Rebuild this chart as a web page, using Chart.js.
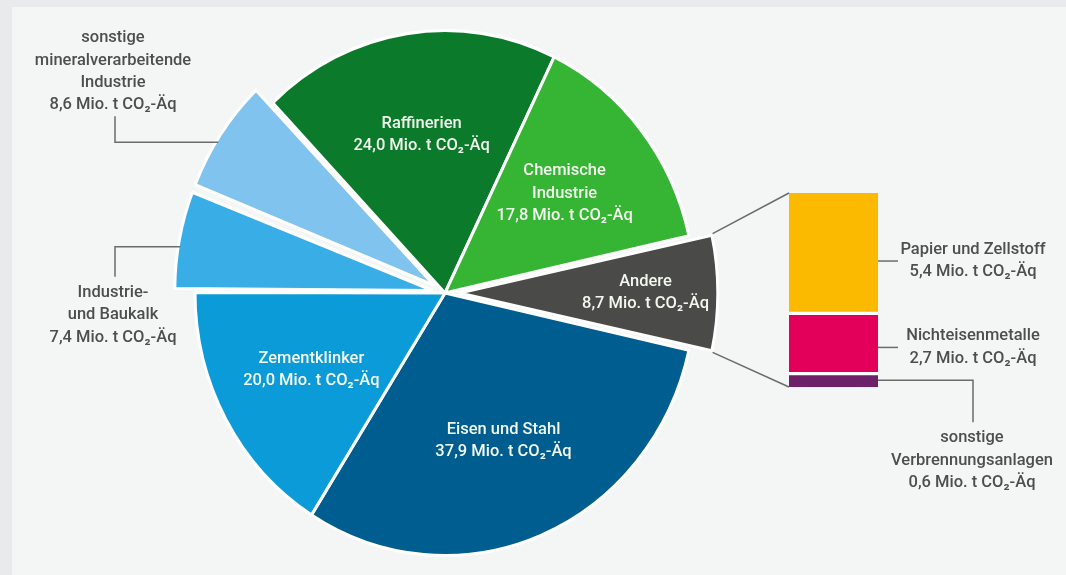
<!DOCTYPE html>
<html lang="de">
<head>
<meta charset="utf-8">
<title>Treibhausgasemissionen der Industrie</title>
<script src="https://cdn.jsdelivr.net/npm/chart.js@4.4.1/dist/chart.umd.min.js"></script>
<style>
  html, body { margin: 0; padding: 0; background: #e9eaec; }
  #wrap { position: relative; width: 1066px; height: 575px; overflow: hidden; }
  #panel { position: absolute; left: 12px; top: 7px; right: 0; bottom: 0; background: #f4f6f6; }
  canvas { position: absolute; left: 0; top: 0; }
</style>
</head>
<body>
<div id="wrap">
  <div id="panel"></div>
  <canvas id="pie" width="1066" height="575"></canvas>
  <canvas id="bar" width="1066" height="575"></canvas>
</div>
<script>
// Sektoren im Kreis (im Uhrzeigersinn, beginnend mit "Andere")
const sektoren = [
  ['Andere'],
  ['Eisen und Stahl'],
  ['Zementklinker'],
  ['Industrie-', 'und Baukalk'],
  ['sonstige', 'mineralverarbeitende', 'Industrie'],
  ['Raffinerien'],
  ['Chemische', 'Industrie']
];
const emissionen = [8.7, 37.9, 20.0, 7.4, 8.6, 24.0, 17.8];

// Aufteilung von "Andere" (von unten nach oben gestapelt)
const andereTeile = [
  ['sonstige', 'Verbrennungsanlagen'],
  ['Nichteisenmetalle'],
  ['Papier und Zellstoff']
];
const andereWerte = [0.6, 2.7, 5.4];

const einheit = 'Mio. t CO₂-Äq';

// Aussehen
const sliceColors = ['#4a4a48', '#005d8f', '#0b9bd9', '#39ade6', '#80c3ee', '#0b7a2b', '#36b535'];
const explode = [58, 0, 0, 50, 52, 0, 0];
const barColors = ['#6d2168', '#e3005b', '#fbb900'];
const FONT = '500 16.5px Roboto, "Open Sans", sans-serif';
const LH = 22.3;
const KY = 1.05;         // Kreis ist im Original leicht gestreckt
const LEFT_LABEL_X = 113;
const LINE_COLOR = '#6b6b6b';
const TEXT_DARK = '#4e4e4e';
const TEXT_LIGHT = '#f3f8ee';

const total = emissionen.reduce((a, b) => a + b, 0);
const andereDeg = emissionen[0] / total * 360;

function wert(v) {
  return v.toFixed(1).replace('.', ',') + ' ' + einheit;
}

function drawLines(ctx, lines, x, yMid, color) {
  ctx.fillStyle = color;
  lines.forEach((t, i) => ctx.fillText(t, x, yMid + (i - (lines.length - 1) / 2) * LH));
}

// Geometrie eines (evtl. herausgezogenen) Kreissegments wie Chart.js es zeichnet
function arcGeo(arc) {
  const off = (arc.options.offset || 0) / 4;
  const mid = (arc.startAngle + arc.endAngle) / 2;
  const circ = arc.endAngle - arc.startAngle;
  const r = arc.outerRadius + off * (1 - Math.sin(Math.min(Math.PI, circ)));
  return { cx: arc.x + Math.cos(mid) * off, cy: arc.y + Math.sin(mid) * off, r, mid, start: arc.startAngle, end: arc.endAngle };
}

function project(arc, g, ang, rad) {
  const py = g.cy + Math.sin(ang) * rad;
  return { x: g.cx + Math.cos(ang) * rad, y: arc.y + (py - arc.y) * KY };
}

const squash = {
  id: 'squash',
  beforeDatasetsDraw(chart) {
    const a = chart.getDatasetMeta(0).data[0];
    const ctx = chart.ctx;
    ctx.save();
    ctx.translate(a.x, a.y);
    ctx.scale(1, KY);
    ctx.translate(-a.x, -a.y);
  },
  afterDatasetsDraw(chart) {
    chart.ctx.restore();
  }
};

const pieLabels = {
  id: 'pieLabels',
  afterDraw(chart) {
    const ctx = chart.ctx;
    const arcs = chart.getDatasetMeta(0).data;
    ctx.save();
    ctx.font = FONT;
    ctx.textAlign = 'center';
    ctx.textBaseline = 'middle';
    arcs.forEach((arc, i) => {
      const g = arcGeo(arc);
      const lines = sektoren[i].concat(wert(emissionen[i]));
      const small = emissionen[i] / total < 0.1;
      if (small && Math.cos(g.mid) < 0) {
        // Beschriftung außen links mit Winkellinie
        const ang = g.start + 0.43 * (g.end - g.start);
        const a = project(arc, g, ang, g.r - 2);
        const ex = LEFT_LABEL_X + 2;
        let endY, textMid;
        if (Math.sin(g.mid) < -0.3) {
          endY = a.y - 26;
          textMid = a.y - 37 - (lines.length - 1) / 2 * LH;
        } else {
          endY = a.y + 30;
          textMid = a.y + 46 + (lines.length - 1) / 2 * LH;
        }
        ctx.strokeStyle = LINE_COLOR;
        ctx.lineWidth = 1.5;
        ctx.beginPath();
        ctx.moveTo(a.x, a.y);
        ctx.lineTo(ex, a.y);
        ctx.lineTo(ex, endY);
        ctx.stroke();
        drawLines(ctx, lines, LEFT_LABEL_X, textMid, TEXT_DARK);
      } else {
        const p = project(arc, g, g.mid, g.r * (small ? 0.72 : 0.61));
        drawLines(ctx, lines, p.x, p.y, TEXT_LIGHT);
      }
    });
    ctx.restore();
  }
};

const pieChart = new Chart(document.getElementById('pie'), {
  type: 'pie',
  data: {
    labels: sektoren.map(s => s.join(' ')),
    datasets: [{
      data: emissionen,
      backgroundColor: sliceColors,
      borderColor: '#ffffff',
      borderWidth: 3,
      offset: explode,
      hoverOffset: 0
    }]
  },
  options: {
    responsive: false,
    animation: false,
    events: [],
    radius: 250,
    rotation: 90 - andereDeg / 2,
    layout: { padding: { left: 0, right: 176, top: 11, bottom: 0 } },
    plugins: { legend: { display: false }, tooltip: { enabled: false } }
  },
  plugins: [squash, pieLabels]
});

const barLabels = {
  id: 'barLabels',
  afterDraw(chart) {
    const ctx = chart.ctx;
    const els = andereWerte.map((v, i) => chart.getDatasetMeta(i).data[0]);
    const left = els[0].x - els[0].width / 2;
    const right = els[0].x + els[0].width / 2;
    ctx.save();
    ctx.strokeStyle = LINE_COLOR;
    ctx.lineWidth = 1.5;

    // Verbindungslinien vom Segment "Andere" zum Balken
    const arc = pieChart.getDatasetMeta(0).data[0];
    const g = arcGeo(arc);
    const p1 = project(arc, g, g.start, g.r + 1);
    const p2 = project(arc, g, g.end, g.r + 1);
    ctx.beginPath();
    ctx.moveTo(p1.x, p1.y);
    ctx.lineTo(left, els[els.length - 1].y);
    ctx.moveTo(p2.x, p2.y);
    ctx.lineTo(left, els[0].base);
    ctx.stroke();

    ctx.font = FONT;
    ctx.textAlign = 'center';
    ctx.textBaseline = 'middle';
    els.forEach((el, i) => {
      const mid = (el.y + el.base) / 2;
      const lines = andereTeile[i].concat(wert(andereWerte[i]));
      ctx.beginPath();
      if (andereWerte[i] < 1) {
        ctx.moveTo(right, mid);
        ctx.lineTo(right + 95, mid);
        ctx.lineTo(right + 95, mid + 42);
        ctx.stroke();
        drawLines(ctx, lines, right + 94, mid + 58 + (lines.length - 1) / 2 * LH, TEXT_DARK);
      } else {
        const y = mid + 0.065 * (el.base - el.y);
        ctx.moveTo(right, y);
        ctx.lineTo(right + 20, y);
        ctx.stroke();
        drawLines(ctx, lines, right + 95, y, TEXT_DARK);
      }
    });
    ctx.restore();
  }
};

const gapBorders = [
  { top: 2, bottom: 0, left: 0, right: 0 },
  { top: 2, bottom: 2, left: 0, right: 0 },
  { top: 0, bottom: 2, left: 0, right: 0 }
];

new Chart(document.getElementById('bar'), {
  type: 'bar',
  data: {
    labels: ['Andere'],
    datasets: andereWerte.map((v, i) => ({
      label: andereTeile[i].join(' '),
      data: [v],
      backgroundColor: barColors[i],
      borderColor: '#ffffff',
      borderWidth: gapBorders[i],
      borderSkipped: false,
      barPercentage: 1,
      categoryPercentage: 1
    }))
  },
  options: {
    responsive: false,
    animation: false,
    events: [],
    layout: { padding: { left: 789, right: 188, top: 193, bottom: 188 } },
    plugins: { legend: { display: false }, tooltip: { enabled: false } },
    scales: {
      x: { display: false, stacked: true },
      y: { display: false, stacked: true, min: 0, max: andereWerte.reduce((a, b) => a + b, 0) }
    }
  },
  plugins: [barLabels]
});
</script>
</body>
</html>
